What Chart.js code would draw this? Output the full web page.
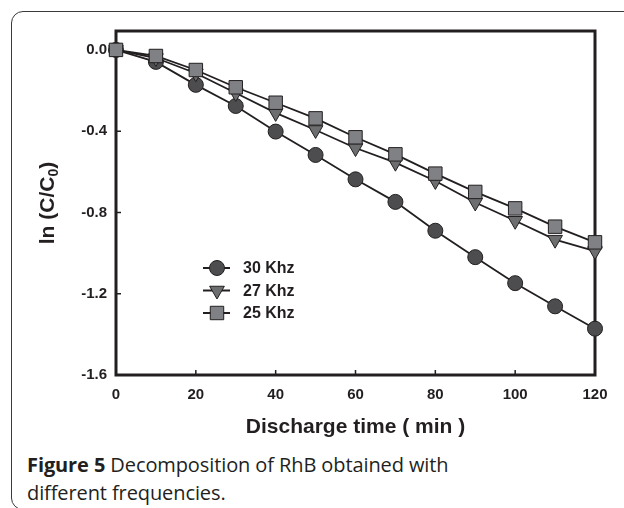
<!DOCTYPE html>
<html>
<head>
<meta charset="utf-8">
<script src="https://cdn.jsdelivr.net/npm/chart.js@4.4.1/dist/chart.umd.min.js"></script>
<style>
    html, body { margin: 0; padding: 0; background: #fff; }
    #page { position: relative; width: 624px; height: 508px; overflow: hidden; }
    #box {
        position: absolute; left: 11px; top: 11px; width: 660px; height: 497px;
        border: 1.5px solid #3a3a3a; border-radius: 12px;
    }
    #wrap { position: absolute; left: 0; top: 0; width: 624px; height: 450px; }
    #caption {
        position: absolute; left: 27px; top: 451px;
        font-family: "Open Sans", sans-serif; font-size: 20px; line-height: 28px;
        color: #231f20; letter-spacing: -0.1px;
    }
</style>
</head>
<body>
<div id="page">
    <div id="box"></div>
    <div id="wrap"><canvas id="chart"></canvas></div>
    <div id="caption"><b>Figure 5</b> Decomposition of RhB obtained with<br>different frequencies.</div>
</div>
<script>
var xValues = [0, 10, 20, 30, 40, 50, 60, 70, 80, 90, 100, 110, 120];
var khz30 = [0, -0.059, -0.172, -0.276, -0.402, -0.517, -0.637, -0.748, -0.890, -1.020, -1.148, -1.262, -1.372];
var khz27 = [0, -0.040, -0.115, -0.212, -0.310, -0.394, -0.483, -0.555, -0.645, -0.751, -0.841, -0.934, -0.990];
var khz25 = [0, -0.030, -0.099, -0.184, -0.260, -0.337, -0.430, -0.514, -0.609, -0.699, -0.780, -0.870, -0.947];
var seriesLabels = ['30 Khz', '27 Khz', '25 Khz'];
var xTicks = [0, 20, 40, 60, 80, 100, 120];
var yTicks = [0, -0.4, -0.8, -1.2, -1.6];

var INK = '#231f20';
var TICK_FONT = { family: 'Liberation Sans', size: 15, weight: 'bold' };

function points(ys) {
    return xValues.map((x, i) => ({ x: x, y: ys[i] }));
}

function series(label, ys, style, radius, fill, order) {
    return {
        label: label,
        data: points(ys),
        borderColor: INK,
        borderWidth: 1.8,
        pointStyle: style,
        pointRotation: style === 'triangle' ? 180 : 0,
        pointRadius: radius,
        pointBackgroundColor: fill,
        pointBorderColor: INK,
        pointBorderWidth: 1,
        clip: false,
        order: order
    };
}

// frame, inward ticks, y title with subscript and the in-plot legend
const decorPlugin = {
    id: 'decor',
    beforeDatasetsDraw(chart) {
        const { ctx, chartArea: a, scales } = chart;
        ctx.save();
        ctx.strokeStyle = INK;
        ctx.lineWidth = 3;
        ctx.strokeRect(a.left, a.top, a.right - a.left, a.bottom - a.top);
        ctx.lineWidth = 1.5;
        ctx.beginPath();
        scales.x.ticks.forEach(t => {
            const px = scales.x.getPixelForValue(t.value);
            ctx.moveTo(px, a.bottom);
            ctx.lineTo(px, a.bottom - 5);
        });
        scales.y.ticks.forEach(t => {
            const py = scales.y.getPixelForValue(t.value);
            ctx.moveTo(a.left, py);
            ctx.lineTo(a.left + 5, py);
        });
        ctx.stroke();
        ctx.restore();
    },
    afterDraw(chart) {
        const { ctx, chartArea: a } = chart;
        ctx.save();
        // y axis title: ln (C/C0)
        ctx.translate(48, (a.top + a.bottom) / 2);
        ctx.rotate(-Math.PI / 2);
        ctx.fillStyle = INK;
        ctx.textBaseline = 'middle';
        const big = 'bold 21px "Liberation Sans"';
        const small = 'bold 14px "Liberation Sans"';
        ctx.font = big;
        const w1 = ctx.measureText('ln (C/C').width;
        const w3 = ctx.measureText(')').width;
        ctx.font = small;
        const w2 = ctx.measureText('0').width;
        let x = -(w1 + w2 + w3) / 2;
        ctx.font = big;
        ctx.textAlign = 'left';
        ctx.fillText('ln (C/C', x, 0);
        x += w1;
        ctx.font = small;
        ctx.fillText('0', x, 6);
        x += w2;
        ctx.font = big;
        ctx.fillText(')', x, 0);
        ctx.restore();

        // legend inside the plot
        ctx.save();
        const lx = a.left + 101;
        chart.data.datasets.forEach((ds, i) => {
            const ly = a.top + 237 + i * 22.5;
            ctx.strokeStyle = INK;
            ctx.lineWidth = 2;
            ctx.beginPath();
            ctx.moveTo(lx - 14, ly);
            ctx.lineTo(lx + 13, ly);
            ctx.stroke();
            ctx.fillStyle = ds.pointBackgroundColor;
            ctx.strokeStyle = INK;
            ctx.lineWidth = 1;
            Chart.helpers.drawPoint(ctx, {
                pointStyle: ds.pointStyle,
                rotation: ds.pointRotation,
                radius: ds.pointRadius,
                borderWidth: 1
            }, lx, ly);
            ctx.fillStyle = INK;
            ctx.font = 'bold 16px "Liberation Sans"';
            ctx.textAlign = 'left';
            ctx.textBaseline = 'middle';
            ctx.fillText(ds.label, lx + 26, ly + 1);
        });
        ctx.restore();
    }
};

new Chart(document.getElementById('chart'), {
    type: 'line',
    data: {
        datasets: [
            series(seriesLabels[0], khz30, 'circle', 7.5, '#4d4d4f', 2),
            series(seriesLabels[1], khz27, 'triangle', 8.5, '#6d6e70', 1),
            series(seriesLabels[2], khz25, 'rect', 9.5, '#808184', 0)
        ]
    },
    options: {
        responsive: true,
        maintainAspectRatio: false,
        animation: false,
        layout: { padding: { left: 0, right: 29, top: 31, bottom: 0 } },
        scales: {
            x: {
                type: 'linear',
                min: 0,
                max: 120,
                afterBuildTicks: scale => { scale.ticks = xTicks.map(v => ({ value: v })); },
                afterFit: scale => { scale.height = 75; },
                grid: { display: false, drawTicks: false },
                border: { display: false },
                ticks: { font: TICK_FONT, color: INK, padding: 11, maxRotation: 0 },
                title: {
                    display: true,
                    text: 'Discharge time ( min )',
                    font: { family: 'Liberation Sans', size: 21, weight: 'bold' },
                    color: INK,
                    padding: { top: 0, bottom: 10 }
                }
            },
            y: {
                min: -1.6,
                max: 0.093,
                afterBuildTicks: scale => { scale.ticks = yTicks.map(v => ({ value: v })); },
                afterFit: scale => { scale.width = 116; },
                grid: { display: false, drawTicks: false },
                border: { display: false },
                ticks: {
                    font: TICK_FONT,
                    color: INK,
                    padding: 9,
                    callback: v => v.toFixed(1)
                }
            }
        },
        plugins: {
            legend: { display: false },
            tooltip: { enabled: false }
        }
    },
    plugins: [decorPlugin]
});
</script>
</body>
</html>
